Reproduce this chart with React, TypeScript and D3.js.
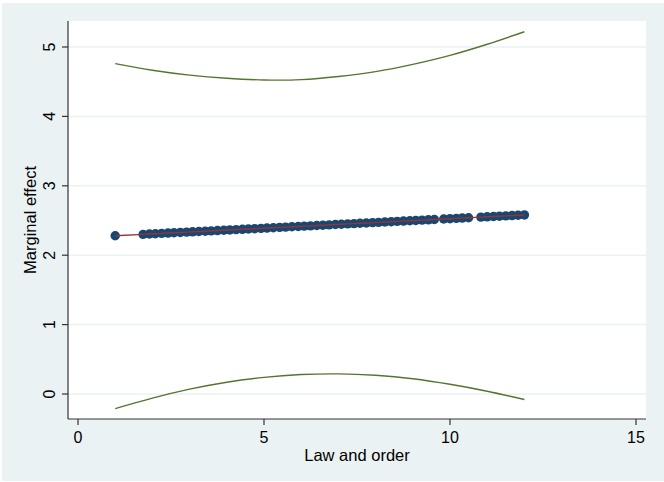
import React from "react";
import { scaleLinear, line as Line, curveNatural } from "d3";

// observed values of law and order, with the marginal effect at each
const lawOrder = [
  1.0, 1.75, 1.92, 2.08, 2.25, 2.42, 2.58, 2.75, 2.92, 3.08, 3.25, 3.42, 3.58,
  3.75, 3.92, 4.08, 4.25, 4.42, 4.58, 4.75, 4.92, 5.08, 5.25, 5.42, 5.58, 5.75,
  5.92, 6.08, 6.25, 6.42, 6.58, 6.75, 6.92, 7.08, 7.25, 7.42, 7.58, 7.75, 7.92,
  8.08, 8.25, 8.42, 8.58, 8.75, 8.92, 9.08, 9.25, 9.42, 9.58, 9.83, 10.0, 10.17,
  10.33, 10.5, 10.83, 11.0, 11.17, 11.33, 11.5, 11.67, 11.83, 12.0,
];
const effect = [
  2.28, 2.3, 2.305, 2.309, 2.314, 2.319, 2.323, 2.328, 2.332, 2.337, 2.341,
  2.346, 2.35, 2.355, 2.36, 2.364, 2.369, 2.373, 2.378, 2.382, 2.387, 2.391,
  2.396, 2.401, 2.405, 2.41, 2.414, 2.419, 2.423, 2.428, 2.432, 2.437, 2.442,
  2.446, 2.451, 2.455, 2.46, 2.464, 2.469, 2.473, 2.478, 2.483, 2.487, 2.492,
  2.496, 2.501, 2.505, 2.51, 2.514, 2.521, 2.526, 2.53, 2.535, 2.539, 2.548,
  2.553, 2.558, 2.562, 2.567, 2.571, 2.576, 2.58,
];

// confidence bounds
const ciX = [1, 2, 3, 4, 5, 6, 7, 8, 9, 10, 11, 12];
const ciUpper = [4.76, 4.665, 4.595, 4.55, 4.525, 4.53, 4.575, 4.645, 4.75, 4.88, 5.04, 5.22];
const ciLower = [-0.21, -0.06, 0.07, 0.17, 0.24, 0.28, 0.29, 0.27, 0.22, 0.14, 0.04, -0.08];

const xTicks = [0, 5, 10, 15];
const yTicks = [0, 1, 2, 3, 4, 5];

const W = 664;
const H = 482;
const left = 68;
const right = 646;
const top = 21;
const bottom = 419;

const font = "'Liberation Sans', Arial, Helvetica, sans-serif";

const App: React.FC = () => {
  const x = scaleLinear().domain([0, 15]).range([78, 636]);
  const y = scaleLinear().domain([0, 5]).range([394, 47]);

  const ciLine = Line<number>()
    .x((_, i) => x(ciX[i]))
    .y((d) => y(d))
    .curve(curveNatural);

  const effLine = Line<number>()
    .x((d) => x(d))
    .y((_, i) => y(effect[i]));

  return (
    <svg
      width={W}
      height={H}
      style={{ position: "fixed", left: 0, top: 0, background: "#fff" }}
    >
      <rect x={2} y={3} width={W - 2} height={H - 4} fill="#eaf2f3" />
      <rect x={left} y={top} width={right - left} height={bottom - top} fill="#fff" />

      {yTicks.map((t) => (
        <line
          key={"g" + t}
          x1={left}
          x2={right}
          y1={y(t)}
          y2={y(t)}
          stroke="#eaf2f3"
          strokeWidth={1.5}
        />
      ))}

      <path d={ciLine(ciUpper) as string} fill="none" stroke="#55752f" strokeWidth={1.4} />
      <path d={ciLine(ciLower) as string} fill="none" stroke="#55752f" strokeWidth={1.4} />

      {lawOrder.map((d, i) => (
        <circle key={i} cx={x(d)} cy={y(effect[i])} r={4.7} fill="#1a476f" />
      ))}
      <path d={effLine(lawOrder) as string} fill="none" stroke="#90353b" strokeWidth={1.4} />

      {/* axes */}
      <line x1={left} x2={left} y1={top} y2={bottom} stroke="#333" strokeWidth={1.2} />
      <line x1={left} x2={right} y1={bottom} y2={bottom} stroke="#333" strokeWidth={1.2} />

      {yTicks.map((t) => (
        <g key={"y" + t}>
          <line x1={left - 6} x2={left} y1={y(t)} y2={y(t)} stroke="#333" strokeWidth={1.2} />
          <text
            transform={`translate(55,${y(t)}) rotate(-90)`}
            textAnchor="middle"
            fontFamily={font}
            fontSize={16}
            fill="#000"
          >
            {t}
          </text>
        </g>
      ))}

      {xTicks.map((t) => (
        <g key={"x" + t}>
          <line x1={x(t)} x2={x(t)} y1={bottom} y2={bottom + 6} stroke="#333" strokeWidth={1.2} />
          <text
            x={x(t)}
            y={443}
            textAnchor="middle"
            fontFamily={font}
            fontSize={16}
            fill="#000"
          >
            {t}
          </text>
        </g>
      ))}

      <text
        x={(left + right) / 2}
        y={461}
        textAnchor="middle"
        fontFamily={font}
        fontSize={16.5}
        fill="#000"
      >
        Law and order
      </text>
      <text
        transform={`translate(36,${(top + bottom) / 2}) rotate(-90)`}
        textAnchor="middle"
        fontFamily={font}
        fontSize={16.5}
        fill="#000"
      >
        Marginal effect
      </text>
    </svg>
  );
};

export default App;
